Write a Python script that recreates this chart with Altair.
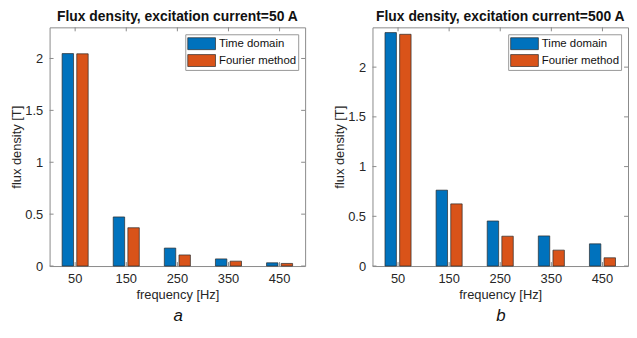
import altair as alt
import pandas as pd

freqs = [50, 150, 250, 350, 450]
series_names = ["Time domain", "Fourier method"]
a_time = [2.047, 0.473, 0.173, 0.069, 0.031]
a_fourier = [2.045, 0.369, 0.107, 0.047, 0.025]
b_time = [2.347, 0.763, 0.453, 0.303, 0.223]
b_fourier = [2.330, 0.625, 0.300, 0.160, 0.083]
y_ticks = [0, 0.5, 1, 1.5, 2]
title_a = "Flux density, excitation current=50 A"
title_b = "Flux density, excitation current=500 A"
colors = ["#0072BD", "#D95319"]

FONT = "Liberation Sans"
W, H = 258, 241
TICK = 4
AXIS_GRAY = "#8a8a8a"


def make_df(t, f):
    rows = []
    for fr, v in zip(freqs, t):
        rows.append({"freq": fr, "series": series_names[0], "value": v})
    for fr, v in zip(freqs, f):
        rows.append({"freq": fr, "series": series_names[1], "value": v})
    return pd.DataFrame(rows)


def panel(t, f, ymax, title):
    df = make_df(t, f)
    xscale = alt.Scale(paddingInner=0.49, paddingOuter=0.245)
    yscale = alt.Scale(domain=[0, ymax], nice=False)
    bars = alt.Chart(df).mark_bar(stroke="#2a2a2a", strokeWidth=0.7).encode(
        x=alt.X("freq:O", scale=xscale, sort=freqs,
                axis=alt.Axis(title="frequency [Hz]", labelAngle=0, ticks=False,
                              tickSize=0, domain=False, labelPadding=7,
                              titlePadding=3)),
        xOffset=alt.XOffset("series:N", sort=series_names,
                            scale=alt.Scale(paddingInner=0.22, paddingOuter=0)),
        y=alt.Y("value:Q", scale=yscale,
                axis=alt.Axis(title="flux density [T]", values=y_ticks, format="~g",
                              ticks=False, tickSize=0, domain=False, grid=False,
                              labelPadding=7, titlePadding=1)),
        color=alt.Color("series:N", sort=series_names,
                        scale=alt.Scale(domain=series_names, range=colors),
                        legend=alt.Legend(title=None, orient="top-right", offset=7,
                                          symbolType="M-2,-0.86H2V0.86H-2Z",
                                          symbolSize=196, symbolStrokeColor="#2a2a2a",
                                          symbolStrokeWidth=0.7, symbolOpacity=1,
                                          symbolOffset=7,
                                          labelFont=FONT, labelFontSize=11.5,
                                          labelColor="#111", labelOffset=10,
                                          rowPadding=2, padding=2,
                                          strokeColor="#999", fillColor="white")),
    )
    tdf = pd.DataFrame({"tick": y_ticks})
    fdf = pd.DataFrame({"freq": freqs})
    yl = alt.Chart(tdf).mark_rule(color=AXIS_GRAY, strokeWidth=1).encode(
        y=alt.Y("tick:Q", scale=yscale), x=alt.value(0), x2=alt.value(TICK))
    yr = alt.Chart(tdf).mark_rule(color=AXIS_GRAY, strokeWidth=1).encode(
        y=alt.Y("tick:Q", scale=yscale), x=alt.value(W), x2=alt.value(W - TICK))
    xt = alt.Chart(fdf).mark_rule(color=AXIS_GRAY, strokeWidth=1).encode(
        x=alt.X("freq:O", bandPosition=0.5, sort=freqs), y=alt.value(0), y2=alt.value(TICK))
    xb = alt.Chart(fdf).mark_rule(color=AXIS_GRAY, strokeWidth=1).encode(
        x=alt.X("freq:O", bandPosition=0.5, sort=freqs), y=alt.value(H), y2=alt.value(H - TICK))
    return alt.layer(bars, yl, yr, xt, xb).properties(
        width=W, height=H,
        title=alt.TitleParams(title, font=FONT, fontSize=14, fontWeight="bold",
                              color="#111", offset=3, frame="group", anchor="middle"),
    )


def captioned(ch, cap):
    return alt.hconcat(ch).properties(
        title=alt.TitleParams(cap, orient="bottom", font=FONT, fontSize=17,
                              fontStyle="italic", fontWeight="normal", color="#111",
                              anchor="middle", dx=20, offset=6)
    ).resolve_scale(color="independent").resolve_legend(color="independent")


left = captioned(panel(a_time, a_fourier, 2.3, title_a), "a")
right = captioned(panel(b_time, b_fourier, 2.4, title_b), "b")

chart = alt.hconcat(left, right, spacing=27).resolve_scale(
    color="independent").resolve_legend(color="independent").properties(
    padding={"left": 2, "top": 0, "right": 0, "bottom": 0}
).configure_view(stroke=AXIS_GRAY, strokeWidth=1).configure_axis(
    labelFont=FONT, labelFontSize=13, labelColor="#262626",
    titleFont=FONT, titleFontSize=13, titleColor="#262626", titleFontWeight="normal"
).configure_concat(spacing=27)

chart.save("out.html", embed_options={"renderer": "svg", "actions": False})
